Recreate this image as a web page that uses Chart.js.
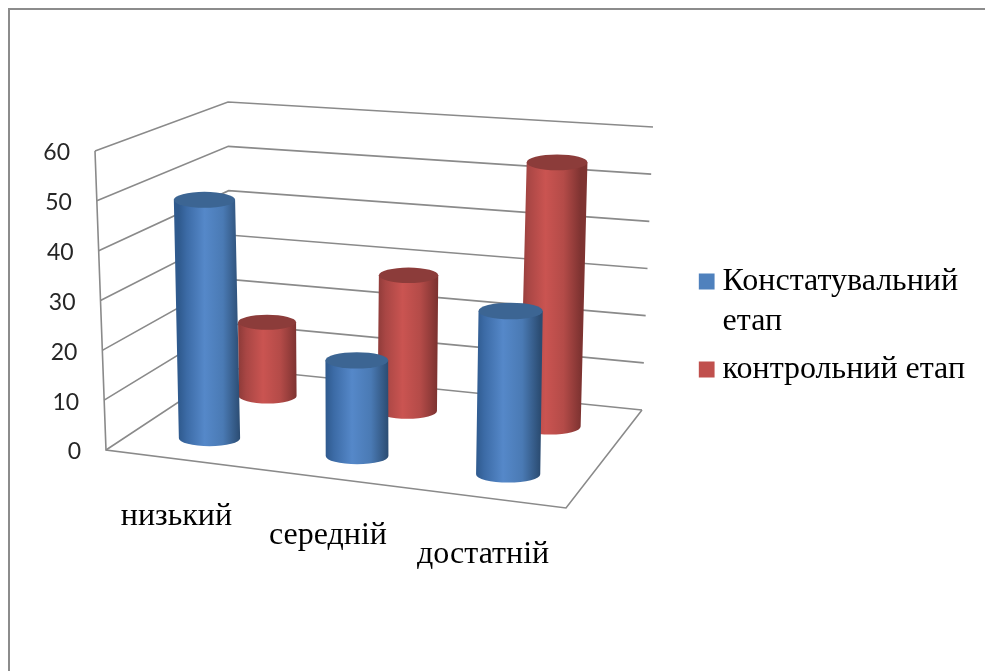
<!DOCTYPE html>
<html>
<head>
<meta charset="utf-8">
<style>
  html, body { margin: 0; background: #fff; overflow: hidden; }
  #frame { position: absolute; left: 8px; top: 8px; width: 990px; height: 680px; border: 2px solid #8c8c8c; box-sizing: border-box; }
  canvas { position: absolute; left: 0; top: 0; }
</style>
<script src="https://cdn.jsdelivr.net/npm/chart.js@4"></script>
</head>
<body>
<div id="frame"></div>
<canvas id="chart" width="985" height="671"></canvas>
<script>
// ── Data ──
const categories = ['низький', 'середній', 'достатній'];
const stage1 = [49, 19.5, 33];
const stage2 = [16, 29, 55.5];
const stage1Label = ['Констатувальний', 'етап'];
const stage2Label = 'контрольний етап';

// ── Floor and wall corners of the 3D box (screen px) ──
const floorFL = [106, 450], floorFR = [566, 508], floorBR = [642, 410], floorBL = [230, 368];
const topFL = [95, 151], topFR = [572, 205], topBR = [653, 127], topBL = [228, 102];
const seriesDepth = [0.25, 0.75];

const lerp = (a, b, t) => [a[0] + (b[0] - a[0]) * t, a[1] + (b[1] - a[1]) * t];

// u: along the categories, d: front to back, h: 0 floor .. 1 top
function project(u, d, h) {
  const uu = u - 0.035 * u * (1 - u); // slight perspective squeeze
  const floor = lerp(lerp(floorFL, floorFR, uu), lerp(floorBL, floorBR, uu), d);
  const ceil = lerp(lerp(topFL, topFR, uu), lerp(topBL, topBR, uu), d);
  return lerp(floor, ceil, h);
}

// ── Bars drawn as cylinders ──
class CylinderController extends Chart.BarController {
  static id = 'cylinder';

  draw() {
    const { ctx, chartArea } = this.chart;
    const depth = seriesDepth[this.index];
    const dark = this.getDataset().edgeColors;
    const yScale = this._cachedMeta.vScale;
    const y0 = yScale.getPixelForValue(0);
    const span = y0 - yScale.getPixelForValue(yScale.max);

    this._cachedMeta.data.forEach(bar => {
      const w = chartArea.right - chartArea.left;
      const u = (bar.x - chartArea.left) / w;
      const du = bar.width / 2 / w;
      const h = (y0 - bar.y) / span;
      const bottom = project(u, depth, 0);
      const top = project(u, depth, h);
      const l = project(u - du, depth, 0);
      const r = project(u + du, depth, 0);
      const rx = (r[0] - l[0]) / 2;
      const ry = rx * 0.26;

      const grad = ctx.createLinearGradient(bottom[0] - rx, 0, bottom[0] + rx, 0);
      grad.addColorStop(0, dark.left);
      grad.addColorStop(0.13, dark.shade);
      grad.addColorStop(0.42, dark.light);
      grad.addColorStop(0.72, dark.mid);
      grad.addColorStop(1, dark.right);

      ctx.save();
      ctx.beginPath();
      ctx.moveTo(top[0] - rx, top[1]);
      ctx.lineTo(bottom[0] - rx, bottom[1]);
      ctx.ellipse(bottom[0], bottom[1], rx, ry, 0, Math.PI, 0, true);
      ctx.lineTo(top[0] + rx, top[1]);
      ctx.closePath();
      ctx.fillStyle = grad;
      ctx.fill();
      ctx.beginPath();
      ctx.ellipse(top[0], top[1], rx, ry, 0, 0, Math.PI * 2);
      ctx.fillStyle = dark.cap;
      ctx.fill();
      ctx.restore();
    });
  }
}
Chart.register(CylinderController);

// ── Walls, floor and axis text ──
const box3d = {
  id: 'box3d',
  beforeDatasetsDraw(chart) {
    const { ctx, scales } = chart;
    const y = scales.y;
    const y0 = y.getPixelForValue(0);
    const span = y0 - y.getPixelForValue(y.max);
    ctx.save();
    ctx.strokeStyle = '#8a8a8a';
    ctx.lineWidth = 1.6;
    y.ticks.forEach(t => {
      const h = (y0 - y.getPixelForValue(t.value)) / span;
      line(ctx, [project(0, 0, h), project(0, 1, h), project(1, 1, h)]);
    });
    line(ctx, [project(0, 0, 1), project(0, 0, 0), project(1, 0, 0), project(1, 1, 0)]);
    ctx.restore();
  },
  afterDraw(chart) {
    const { ctx, scales } = chart;
    const y = scales.y, x = scales.x;
    const y0 = y.getPixelForValue(0);
    const span = y0 - y.getPixelForValue(y.max);
    const w = chart.chartArea.right - chart.chartArea.left;
    ctx.save();
    ctx.textBaseline = 'middle';

    ctx.font = '23px Lato';
    ctx.fillStyle = '#262626';
    ctx.textAlign = 'right';
    y.ticks.forEach(t => {
      const p = project(0, 0, (y0 - y.getPixelForValue(t.value)) / span);
      ctx.fillText(t.label, p[0] - 25, p[1] + 2);
    });

    ctx.font = '32px "Liberation Serif"';
    ctx.fillStyle = '#000';
    ctx.textAlign = 'center';
    categories.forEach((c, i) => {
      const p = project((x.getPixelForValue(i) - chart.chartArea.left) / w, 0, 0);
      ctx.fillText(c, p[0] - 4, p[1] + 57);
    });
    ctx.restore();
  },
};

function line(ctx, pts) {
  ctx.beginPath();
  pts.forEach((p, i) => (i ? ctx.lineTo(p[0], p[1]) : ctx.moveTo(p[0], p[1])));
  ctx.stroke();
}

// push the legend down to where the reference has it
const legendShift = {
  id: 'legendShift',
  afterLayout(chart) {
    chart.legend.top += 25;
    chart.legend.bottom += 25;
  },
};

new Chart(document.getElementById('chart'), {
  type: 'cylinder',
  plugins: [box3d, legendShift],
  data: {
    labels: categories,
    datasets: [
      {
        label: stage1Label, data: stage1, grouped: false, clip: false,
        barPercentage: 0.42, categoryPercentage: 1,
        backgroundColor: '#4F81BD',
        edgeColors: { left: '#2f5a8e', shade: '#3c6ba6', light: '#5588c9', mid: '#4a7ab4', right: '#2b4c72', cap: '#3c6593' },
      },
      {
        label: stage2Label, data: stage2, grouped: false, clip: false,
        barPercentage: 0.42, categoryPercentage: 1,
        backgroundColor: '#C0504D',
        edgeColors: { left: '#8e3b39', shade: '#a84644', light: '#ca5451', mid: '#b44b48', right: '#7e3331', cap: '#8c3c3a' },
      },
    ],
  },
  options: {
    responsive: false,
    animation: false,
    events: [],
    layout: { padding: { left: 106, top: 151, bottom: 221, right: 10 } },
    scales: {
      x: { offset: true, grid: { display: false }, border: { display: false }, ticks: { display: false } },
      y: { min: 0, max: 60, ticks: { display: false, stepSize: 10 }, grid: { display: false }, border: { display: false } },
    },
    plugins: {
      tooltip: { enabled: false },
      legend: {
        position: 'right',
        maxWidth: 300,
        labels: {
          usePointStyle: true, pointStyle: 'rect',
          boxWidth: 0.01, boxHeight: 16, padding: 8,
          color: '#000',
          font: { family: '"Liberation Serif"', size: 32, lineHeight: 1.25 },
        },
      },
    },
  },
});
</script>
</body>
</html>
